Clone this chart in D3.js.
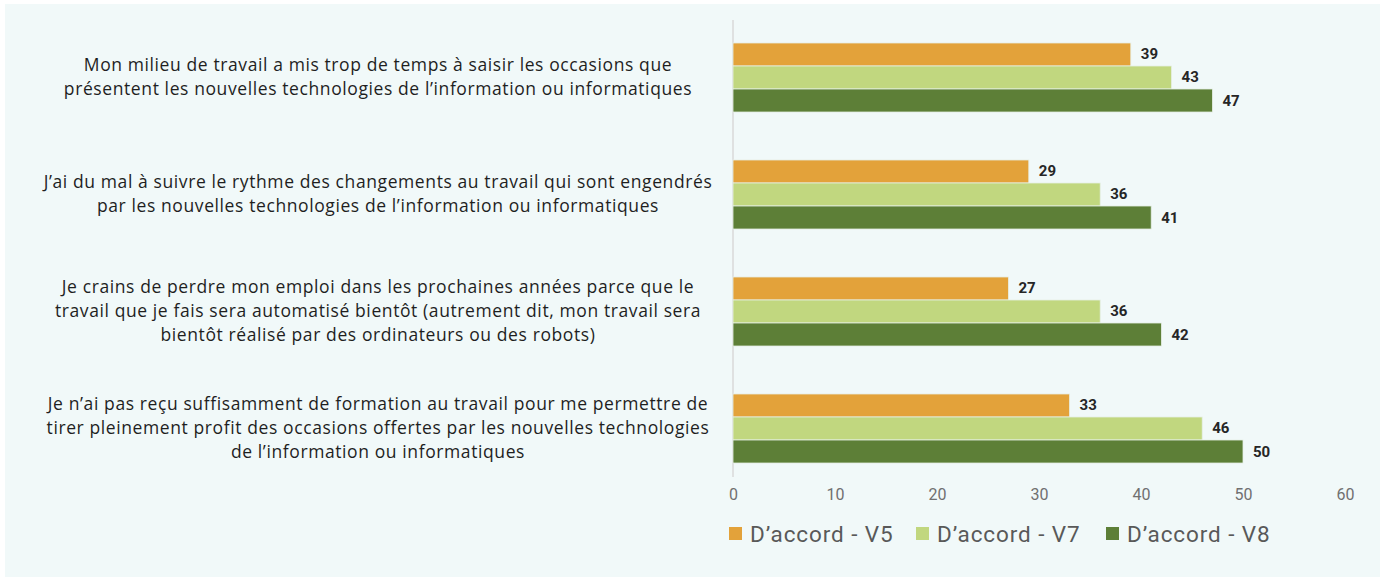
<!DOCTYPE html>
<html>
<head>
<meta charset="utf-8">
<script src="https://cdn.jsdelivr.net/npm/d3@7"></script>
<style>
  body { margin: 0; background: #fff; }
  svg { display: block; }
</style>
</head>
<body>
<div id="chart"></div>
<script>
const categories = [
  ["Mon milieu de travail a mis trop de temps à saisir les occasions que",
   "présentent les nouvelles technologies de l’information ou informatiques"],
  ["J’ai du mal à suivre le rythme des changements au travail qui sont engendrés",
   "par les nouvelles technologies de l’information ou informatiques"],
  ["Je crains de perdre mon emploi dans les prochaines années parce que le",
   "travail que je fais sera automatisé bientôt (autrement dit, mon travail sera",
   "bientôt réalisé par des ordinateurs ou des robots)"],
  ["Je n’ai pas reçu suffisamment de formation au travail pour me permettre de",
   "tirer pleinement profit des occasions offertes par les nouvelles technologies",
   "de l’information ou informatiques"]
];
const seriesNames = ["D’accord - V5", "D’accord - V7", "D’accord - V8"];
const v5 = [39, 29, 27, 33];
const v7 = [43, 36, 36, 46];
const v8 = [47, 41, 42, 50];
const xTicks = [0, 10, 20, 30, 40, 50, 60];
const colors = ["#e3a23a", "#c1d77f", "#5d7f37"];

const W = 1385, H = 580;
const svg = d3.select("#chart").append("svg").attr("width", W).attr("height", H);

svg.append("rect").attr("x", 5).attr("y", 4).attr("width", 1375).attr("height", 573).attr("fill", "#f1f9f9");

const x = d3.scaleLinear().domain([0, 60]).range([733, 1345]);
const y = d3.scaleBand().domain(d3.range(categories.length)).range([19, 487]).paddingInner(0.41).paddingOuter(0.205);
const sub = d3.scaleBand().domain(d3.range(3)).range([0, y.bandwidth()]);

const series = [v5, v7, v8];

// axis line
svg.append("line")
  .attr("x1", x(0)).attr("x2", x(0))
  .attr("y1", 20).attr("y2", 477)
  .attr("stroke", "#d9d9d9").attr("stroke-width", 1.5);

const xAxis = d3.axisBottom(x).tickValues(xTicks).tickSize(0).tickPadding(0);
const ax = svg.append("g").attr("transform", "translate(0,489)").call(xAxis);
ax.select(".domain").remove();
ax.selectAll("text")
  .style("font-family", "Roboto, sans-serif")
  .style("font-size", "16px")
  .attr("fill", "#707070");

const groups = svg.selectAll(".grp").data(categories).enter().append("g")
  .attr("transform", (d, i) => `translate(0,${y(i)})`);

series.forEach((vals, s) => {
  groups.append("rect")
    .attr("x", x(0))
    .attr("y", sub(s))
    .attr("width", (d, i) => x(vals[i]) - x(0))
    .attr("height", sub.bandwidth())
    .attr("fill", colors[s])
    .attr("stroke", "#e6efe6").attr("stroke-width", 0.8);

  groups.append("text")
    .attr("x", (d, i) => x(vals[i]) + 10)
    .attr("y", sub(s) + sub.bandwidth() / 2)
    .attr("dominant-baseline", "central")
    .style("font-family", "Roboto, sans-serif")
    .style("font-size", "15px")
    .style("font-weight", "700")
    .attr("fill", "#262626")
    .text((d, i) => vals[i]);
});

// category labels
const lineH = 24;
groups.each(function (lines) {
  const g = d3.select(this);
  const cy = y.bandwidth() / 2 - 1.5;
  const t = g.append("text")
    .attr("text-anchor", "middle")
    .style("font-family", "'Open Sans', sans-serif")
    .style("font-size", "17.5px")
    .style("letter-spacing", "0.6px")
    .attr("fill", "#1f1f1f");
  lines.forEach((ln, k) => {
    t.append("tspan")
      .attr("x", 378)
      .attr("y", cy + (k - (lines.length - 1) / 2) * lineH)
      .attr("dominant-baseline", "central")
      .text(ln);
  });
});

// legend
const legendX = [729, 916, 1106];
const leg = svg.selectAll(".leg").data(seriesNames).enter().append("g")
  .attr("transform", (d, i) => `translate(${legendX[i]},533.5)`);
leg.append("rect").attr("x", 0).attr("y", -6.5).attr("width", 13).attr("height", 13)
  .attr("fill", (d, i) => colors[i]);
leg.append("text").attr("x", 21).attr("y", 8)
  .style("font-family", "Roboto, sans-serif").style("font-size", "22.5px")
  .style("letter-spacing", "0.9px")
  .attr("fill", "#595959").text(d => d);
</script>
</body>
</html>
